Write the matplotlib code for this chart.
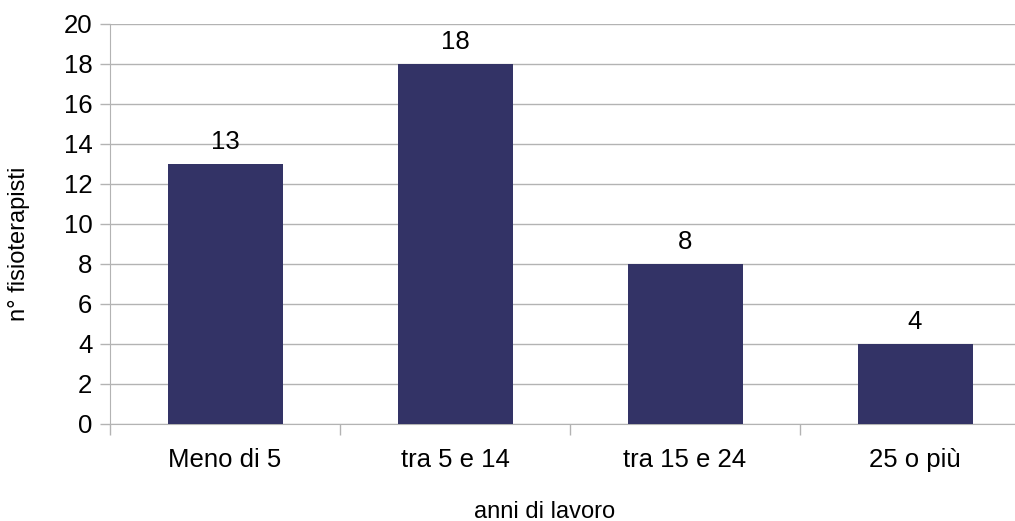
import numpy as np
import matplotlib.pyplot as plt

plt.rcParams['font.family'] = ['Liberation Sans', 'DejaVu Sans']

categorie = ['Meno di 5', 'tra 5 e 14', 'tra 15 e 24', '25 o più']
fisioterapisti = [13, 18, 8, 4]

bar_color = '#333366'
grid_color = '#b3b3b3'

fig = plt.figure(figsize=(10.15, 5.21), dpi=100)
# plot area runs a bit past the right edge of the canvas
ax = fig.add_axes([110 / 1015, (521 - 423.5) / 521, 920 / 1015, 400 / 521])

x = np.arange(len(categorie))
bars = ax.bar(x, fisioterapisti, width=0.5, color=bar_color, zorder=3)

for xi, v in zip(x, fisioterapisti):
    ax.annotate(str(v), (xi, v), xytext=(0, 10.5), textcoords='offset points',
                ha='center', va='baseline', fontsize=18.5, color='black')

ax.set_xlim(-0.5, len(categorie) - 0.5)
ax.set_ylim(0, 20)
ax.set_yticks(range(0, 21, 2))
ax.set_xticks(x)
ax.set_xticklabels(categorie)
ax.set_xticks(np.arange(-0.5, len(categorie)), minor=True)

ax.yaxis.grid(True, color=grid_color, linewidth=1, zorder=0)
ax.tick_params(axis='y', length=7.2, color=grid_color, width=1, labelsize=18.5, pad=5.5)
ax.tick_params(axis='x', which='major', length=0, labelsize=18.5, pad=17.5)
ax.tick_params(axis='x', which='minor', length=8, color=grid_color, width=1)

for side in ['top', 'right']:
    ax.spines[side].set_visible(False)
ax.spines['left'].set_color(grid_color)
ax.spines['bottom'].set_color(grid_color)

ax.set_xlabel('anni di lavoro', fontsize=17)
ax.set_ylabel('n° fisioterapisti', fontsize=17)
ax.xaxis.set_label_coords(435 / 920, -77 / 400)
ax.yaxis.set_label_coords(-80 / 920, 180 / 400)

fig.savefig('out.png', dpi=100)
